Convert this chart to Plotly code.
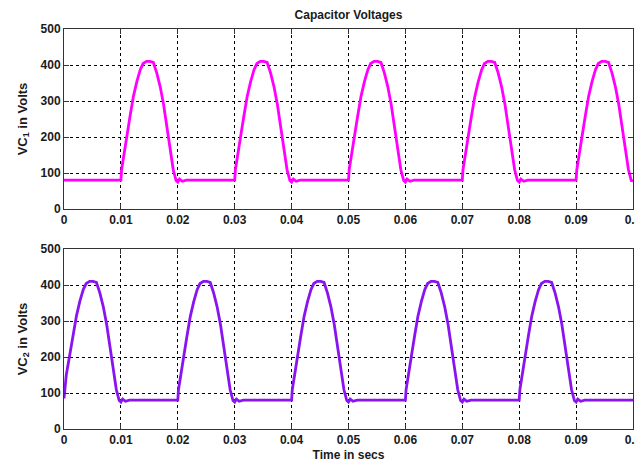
import plotly.graph_objects as go

# ---- data ----
x_tick_vals = [0, 0.01, 0.02, 0.03, 0.04, 0.05, 0.06, 0.07, 0.08, 0.09, 0.1]
x_tick_text = ["0", "0.01", "0.02", "0.03", "0.04", "0.05", "0.06", "0.07", "0.08", "0.09", "0.1"]
y_tick_vals = [0, 100, 200, 300, 400, 500]

t_vc1 = [0, 0.0100,
         0.01012, 0.0104, 0.0110, 0.0116, 0.0122, 0.0128, 0.0134, 0.0139, 0.0145, 0.0151,
         0.0157, 0.0163, 0.0169, 0.0175, 0.0181, 0.0187, 0.0192, 0.0197, 0.0200, 0.0203, 0.0208, 0.0215, 0.0300,
         0.03012, 0.0304, 0.0310, 0.0316, 0.0322, 0.0328, 0.0334, 0.0339, 0.0345, 0.0351,
         0.0357, 0.0363, 0.0369, 0.0375, 0.0381, 0.0387, 0.0392, 0.0397, 0.0400, 0.0403, 0.0408, 0.0415, 0.0500,
         0.05012, 0.0504, 0.0510, 0.0516, 0.0522, 0.0528, 0.0534, 0.0539, 0.0545, 0.0551,
         0.0557, 0.0563, 0.0569, 0.0575, 0.0581, 0.0587, 0.0592, 0.0597, 0.0600, 0.0603, 0.0608, 0.0615, 0.0700,
         0.07012, 0.0704, 0.0710, 0.0716, 0.0722, 0.0728, 0.0734, 0.0739, 0.0745, 0.0751,
         0.0757, 0.0763, 0.0769, 0.0775, 0.0781, 0.0787, 0.0792, 0.0797, 0.0800, 0.0803, 0.0808, 0.0815, 0.0900,
         0.09012, 0.0904, 0.0910, 0.0916, 0.0922, 0.0928, 0.0934, 0.0939, 0.0945, 0.0951,
         0.0957, 0.0963, 0.0969, 0.0975, 0.0981, 0.0987, 0.0992, 0.0997, 0.1000]
v_vc1 = [80, 80,
         109, 142, 197, 257, 313, 354, 387, 404, 410, 410,
         407, 378, 340, 290, 229, 165, 109, 79, 75, 83, 77, 80, 80,
         109, 142, 197, 257, 313, 354, 387, 404, 410, 410,
         407, 378, 340, 290, 229, 165, 109, 79, 75, 83, 77, 80, 80,
         109, 142, 197, 257, 313, 354, 387, 404, 410, 410,
         407, 378, 340, 290, 229, 165, 109, 79, 75, 83, 77, 80, 80,
         109, 142, 197, 257, 313, 354, 387, 404, 410, 410,
         407, 378, 340, 290, 229, 165, 109, 79, 75, 83, 77, 80, 80,
         109, 142, 197, 257, 313, 354, 387, 404, 410, 410,
         407, 378, 340, 290, 229, 165, 109, 79, 78]

t_vc2 = [0, 0.00012, 0.0004, 0.0010, 0.0016, 0.0022, 0.0028, 0.0034, 0.0039, 0.0045, 0.0051,
         0.0057, 0.0063, 0.0069, 0.0075, 0.0081, 0.0087, 0.0092, 0.0097, 0.0100, 0.0103, 0.0108, 0.0115, 0.0200,
         0.02012, 0.0204, 0.0210, 0.0216, 0.0222, 0.0228, 0.0234, 0.0239, 0.0245, 0.0251,
         0.0257, 0.0263, 0.0269, 0.0275, 0.0281, 0.0287, 0.0292, 0.0297, 0.0300, 0.0303, 0.0308, 0.0315, 0.0400,
         0.04012, 0.0404, 0.0410, 0.0416, 0.0422, 0.0428, 0.0434, 0.0439, 0.0445, 0.0451,
         0.0457, 0.0463, 0.0469, 0.0475, 0.0481, 0.0487, 0.0492, 0.0497, 0.0500, 0.0503, 0.0508, 0.0515, 0.0600,
         0.06012, 0.0604, 0.0610, 0.0616, 0.0622, 0.0628, 0.0634, 0.0639, 0.0645, 0.0651,
         0.0657, 0.0663, 0.0669, 0.0675, 0.0681, 0.0687, 0.0692, 0.0697, 0.0700, 0.0703, 0.0708, 0.0715, 0.0800,
         0.08012, 0.0804, 0.0810, 0.0816, 0.0822, 0.0828, 0.0834, 0.0839, 0.0845, 0.0851,
         0.0857, 0.0863, 0.0869, 0.0875, 0.0881, 0.0887, 0.0892, 0.0897, 0.0900, 0.0903, 0.0908, 0.0915, 0.1000]
v_vc2 = [85, 112, 150, 205, 262, 315, 356, 388, 404, 410, 410,
         407, 378, 340, 290, 229, 165, 109, 79, 75, 83, 77, 80, 80,
         109, 142, 197, 257, 313, 354, 387, 404, 410, 410,
         407, 378, 340, 290, 229, 165, 109, 79, 75, 83, 77, 80, 80,
         109, 142, 197, 257, 313, 354, 387, 404, 410, 410,
         407, 378, 340, 290, 229, 165, 109, 79, 75, 83, 77, 80, 80,
         109, 142, 197, 257, 313, 354, 387, 404, 410, 410,
         407, 378, 340, 290, 229, 165, 109, 79, 75, 83, 77, 80, 80,
         109, 142, 197, 257, 313, 354, 387, 404, 410, 410,
         407, 378, 340, 290, 229, 165, 109, 79, 75, 83, 77, 80, 80]

# ---- figure ----
FONT = "Liberation Sans, Arial, sans-serif"
fig = go.Figure()
fig.add_trace(go.Scatter(x=t_vc1, y=v_vc1, mode="lines",
                         line=dict(color="#FF00FF", width=2.8), xaxis="x", yaxis="y",
                         showlegend=False))
fig.add_trace(go.Scatter(x=t_vc2, y=v_vc2, mode="lines",
                         line=dict(color="#8A14F0", width=2.8), xaxis="x2", yaxis="y2",
                         showlegend=False))

tickfont = dict(family=FONT, size=12, color="#1a1a1a", weight="bold")
titlefont = dict(family=FONT, size=13, color="#1a1a1a", weight="bold")

xcommon = dict(range=[0, 0.1], tickmode="array", tickvals=x_tick_vals, ticktext=x_tick_text,
               ticklabeloverflow="allow",
               showgrid=True, gridcolor="black", gridwidth=1, griddash="3px,3px",
               showline=True, linecolor="#333", linewidth=1, mirror="ticks",
               ticks="inside", ticklen=5, tickcolor="#333",
               tickfont=tickfont, zeroline=False, automargin=False, fixedrange=True)
ycommon = dict(range=[0, 500], tickmode="array", tickvals=y_tick_vals,
               showgrid=True, gridcolor="black", gridwidth=1, griddash="3px,3px",
               showline=True, linecolor="#333", linewidth=1, mirror="ticks",
               ticks="inside", ticklen=5, tickcolor="#333",
               tickfont=tickfont, zeroline=False, automargin=False, fixedrange=True)

fig.update_layout(
    width=635, height=464,
    margin=dict(l=64, r=2, t=29, b=35),
    paper_bgcolor="white", plot_bgcolor="white",
    title=dict(text="Capacitor Voltages", x=0.5, xanchor="center", xref="paper",
               y=1 - 15 / 464, yref="container", yanchor="middle",
               font=dict(family=FONT, size=12, color="#1a1a1a", weight="bold")),
    xaxis=dict(domain=[0, 1], anchor="y", **xcommon),
    yaxis=dict(domain=[0.55, 1.0], anchor="x",
               title=dict(text="VC<sub>1</sub> in Volts", font=titlefont, standoff=10), **ycommon),
    xaxis2=dict(domain=[0, 1], anchor="y2",
                title=dict(text="Time in secs", font=dict(family=FONT, size=12, color="#1a1a1a", weight="bold"),
                           standoff=4), **xcommon),
    yaxis2=dict(domain=[0, 0.45], anchor="x2",
                title=dict(text="VC<sub>2</sub> in Volts", font=titlefont, standoff=10), **ycommon),
)

fig.write_html("out.html")
